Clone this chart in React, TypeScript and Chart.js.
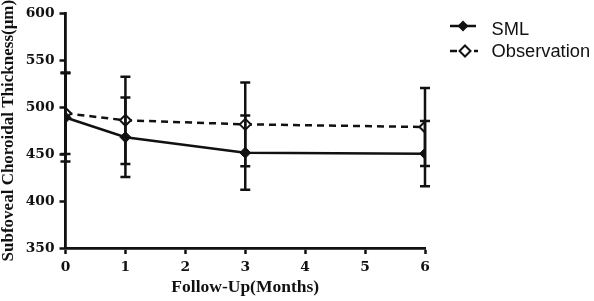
import React, { useEffect, useRef } from "react";
import { Chart, registerables } from "chart.js";

Chart.register(...registerables);

const months = [0, 1, 3, 6];
const smlMean = [489, 468, 451.5, 450.5];
const smlSD = [47, 42.4, 39.5, 34.7];
const obsMean = [493.5, 486, 481.7, 478.9];
const obsSD = [43.5, 46.5, 44.7, 41.5];
const seriesNames = ["SML", "Observation"];
const xTitle = "Follow-Up(Months)";
const yTitle = "Subfoveal Choroidal Thickness(μm)";

const INK = "#111111";

const errorBarPlugin = {
  id: "errorBars",
  afterDatasetsDraw(chart: any) {
    const ctx = chart.ctx;
    const xs = chart.scales.x;
    const ys = chart.scales.y;
    chart.data.datasets.forEach((ds: any) => {
      const errs: number[] = ds.errors || [];
      ds.data.forEach((pt: any, i: number) => {
        const e = errs[i];
        if (e == null) return;
        const px = xs.getPixelForValue(pt.x);
        const yHi = ys.getPixelForValue(pt.y + e);
        const yLo = ys.getPixelForValue(pt.y - e);
        ctx.save();
        ctx.strokeStyle = INK;
        ctx.lineWidth = 2.5;
        ctx.setLineDash([]);
        ctx.beginPath();
        ctx.moveTo(px, yHi);
        ctx.lineTo(px, yLo);
        ctx.moveTo(px - 5, yHi);
        ctx.lineTo(px + 5, yHi);
        ctx.moveTo(px - 5, yLo);
        ctx.lineTo(px + 5, yLo);
        ctx.stroke();
        ctx.restore();
      });
    });
  },
};

function diamond(ctx: CanvasRenderingContext2D, cx: number, cy: number, r: number) {
  ctx.beginPath();
  ctx.moveTo(cx, cy - r);
  ctx.lineTo(cx + r, cy);
  ctx.lineTo(cx, cy + r);
  ctx.lineTo(cx - r, cy);
  ctx.closePath();
}

const legendPlugin = {
  id: "customLegend",
  afterDraw(chart: any) {
    const ctx = chart.ctx;
    ctx.save();
    ctx.strokeStyle = INK;
    ctx.fillStyle = INK;
    // SML row
    ctx.lineWidth = 2.5;
    ctx.setLineDash([]);
    ctx.beginPath();
    ctx.moveTo(450, 26);
    ctx.lineTo(476, 26);
    ctx.stroke();
    diamond(ctx, 463, 26, 5.5);
    ctx.fill();
    // Observation row
    ctx.setLineDash([7, 5]);
    ctx.beginPath();
    ctx.moveTo(450, 51);
    ctx.lineTo(478, 51);
    ctx.stroke();
    ctx.setLineDash([]);
    ctx.lineWidth = 2;
    ctx.fillStyle = "#ffffff";
    diamond(ctx, 465, 51, 5.5);
    ctx.fill();
    ctx.stroke();
    // texts
    ctx.fillStyle = INK;
    ctx.font = '18.3px "Liberation Sans", Arial, sans-serif';
    ctx.textAlign = "left";
    ctx.textBaseline = "alphabetic";
    ctx.fillText(seriesNames[0], 491.5, 35);
    ctx.fillText(seriesNames[1], 491.5, 57);
    ctx.restore();
  },
};

export default function App() {
  const ref = useRef<HTMLCanvasElement | null>(null);

  useEffect(() => {
    if (!ref.current) return;
    const tickFont = { family: '"DejaVu Serif", serif', size: 13.8, weight: "bold" as const };
    const chart = new Chart(ref.current, {
      type: "line",
      data: {
        datasets: [
          {
            label: seriesNames[0],
            data: months.map((m, i) => ({ x: m, y: smlMean[i] })),
            errors: smlSD,
            borderColor: INK,
            backgroundColor: INK,
            borderWidth: 2.5,
            pointStyle: "rectRot",
            pointRadius: 5.5,
            pointBorderWidth: 1,
            pointBackgroundColor: INK,
            pointBorderColor: INK,
            tension: 0,
          } as any,
          {
            label: seriesNames[1],
            data: months.map((m, i) => ({ x: m, y: obsMean[i] })),
            errors: obsSD,
            borderColor: INK,
            backgroundColor: "#ffffff",
            borderWidth: 2.5,
            borderDash: [7, 5],
            pointStyle: "rectRot",
            pointRadius: 5.5,
            pointBorderWidth: 2,
            pointBackgroundColor: "#ffffff",
            pointBorderColor: INK,
            tension: 0,
          } as any,
        ],
      },
      options: {
        animation: false,
        responsive: false,
        layout: { padding: { left: 0, right: 169, top: 10, bottom: 0 } },
        plugins: {
          legend: { display: false },
          tooltip: { enabled: false },
        },
        scales: {
          x: {
            type: "linear",
            min: 0,
            max: 6,
            ticks: { stepSize: 1, color: INK, font: tickFont, padding: 5 },
            grid: {
              drawOnChartArea: false,
              drawTicks: true,
              tickLength: 6,
              tickWidth: 2.5,
              tickColor: INK,
              color: INK,
            },
            border: { display: true, color: INK, width: 2.8 },
            title: {
              display: true,
              text: xTitle,
              color: INK,
              font: { family: '"Liberation Serif", serif', size: 17.5, weight: "bold", lineHeight: 1.2 },
              padding: { top: 0, bottom: 3 },
            },
            afterFit(scale: any) {
              scale.height = 53;
            },
          },
          y: {
            type: "linear",
            min: 350,
            max: 600,
            ticks: { stepSize: 50, color: INK, font: tickFont, padding: 5 },
            grid: {
              drawOnChartArea: false,
              drawTicks: true,
              tickLength: 6,
              tickWidth: 2.5,
              tickColor: INK,
              color: INK,
            },
            border: { display: true, color: INK, width: 2.8 },
            title: {
              display: true,
              text: yTitle,
              color: INK,
              font: { family: '"Liberation Serif", serif', size: 17, weight: "bold", lineHeight: 1 },
              padding: { top: 0, bottom: 0 },
            },
            afterFit(scale: any) {
              scale.width = 65.5;
            },
          },
        },
      },
      plugins: [errorBarPlugin, legendPlugin],
    });
    return () => chart.destroy();
  }, []);

  return (
    <div style={{ position: "fixed", left: 0, top: 0, width: 594, height: 301, background: "#fff" }}>
      <canvas ref={ref} width={594} height={301} style={{ display: "block", width: 594, height: 301 }} />
    </div>
  );
}
